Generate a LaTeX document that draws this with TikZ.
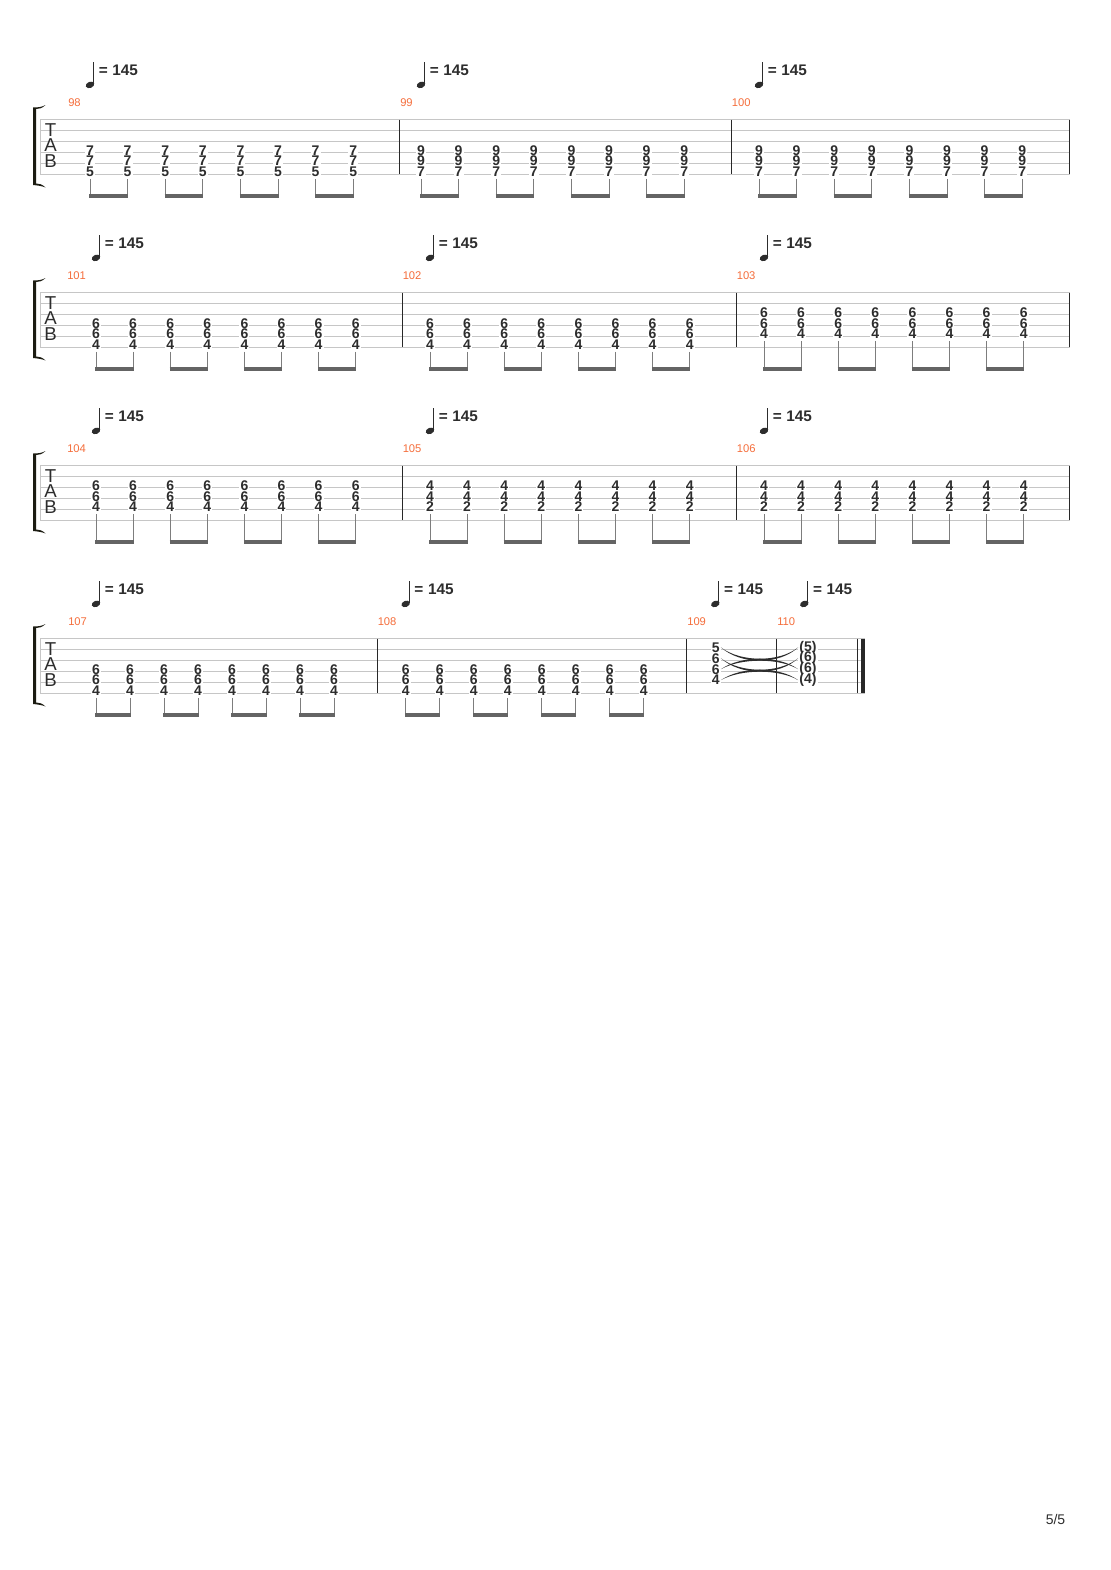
\documentclass[tikz,border=0pt]{standalone}
\usepackage{fontspec}
\setmainfont{Liberation Sans}
\definecolor{staffgray}{RGB}{198,198,198}
\definecolor{barblack}{RGB}{40,40,40}
\definecolor{fretgray}{RGB}{45,45,45}
\definecolor{numorange}{RGB}{245,110,60}
\definecolor{stemgray}{RGB}{125,125,125}
\definecolor{beamgray}{RGB}{100,100,100}
\definecolor{bracketcol}{RGB}{28,28,18}
\tikzset{
  fret/.style={fill=white, inner xsep=0.8pt, inner ysep=0pt, text=fretgray,
    font=\fontsize{10.5pt}{11pt}\selectfont\bfseries},
  staffline/.style={draw=staffgray, line width=0.75pt},
  barline/.style={draw=barblack, line width=0.75pt},
  stem/.style={draw=stemgray, line width=0.75pt, shorten <=1.4pt},
  beam/.style={draw=beamgray, line width=2.3pt, shorten <=-0.4pt, shorten >=-0.4pt},
  barnum/.style={anchor=west, inner sep=0pt, text=numorange,
    font=\fontsize{8.4pt}{9pt}\selectfont},
  tempo/.style={anchor=west, inner sep=0pt, text=fretgray,
    font=\fontsize{11.5pt}{12pt}\selectfont\bfseries},
  tabletter/.style={inner sep=0pt, text=fretgray, font=\fontsize{14pt}{14pt}\selectfont},
  tiefill/.style={fill=fretgray}
}
\begin{document}
\begin{tikzpicture}[x=0.75pt, y=-0.75pt]
  \fill[white] (0,0) rectangle (1110,1570);
  \useasboundingbox (0,0) rectangle (1110,1570);

  % staves
  \foreach \sy/\xe [count=\n] in {119.5/1069.5, 292.5/1069.5, 465.5/1069.5, 638.5/864.7} {
    \foreach \k in {0,...,5}
      \draw[staffline] (40,\sy+10.9*\k) -- (\xe,\sy+10.9*\k);
    \draw[staffline] (40.5,\sy) -- (40.5,\sy+54.5);
    \node[tabletter] (tabT\n) at (50.7,\sy+10.7) {T};
    \node[tabletter] (tabA\n) at (50.7,\sy+26) {A};
    \node[tabletter] (tabB\n) at (50.7,\sy+41.4) {B};
    \fill[bracketcol] (33.2,\sy-12) -- (33.2,\sy+65.5)
      .. controls (38,\sy+66) and (42,\sy+66.5) .. (45.5,\sy+68)
      .. controls (42,\sy+64.5) and (38.5,\sy+64) .. (36,\sy+64) -- (36,\sy-10.5)
      .. controls (38.5,\sy-10.5) and (42,\sy-11) .. (45.5,\sy-14.5)
      .. controls (42,\sy-12.5) and (38,\sy-12) .. cycle;
  }

  % bar lines
  \foreach \bx/\sy in {399.5/119.5, 731.5/119.5, 1069.5/119.5,
                       402.5/292.5, 736.5/292.5, 1069.5/292.5,
                       402.5/465.5, 736.5/465.5, 1069.5/465.5,
                       377.5/638.5, 686.5/638.5, 776.5/638.5, 857.5/638.5}
    \draw[barline] (\bx,\sy) -- (\bx,\sy+54.5);
  \fill[barblack] (861,638.5) rectangle (865,693);

  % bar numbers
  \foreach \m/\bx/\sy in {98/68/119.5, 99/400/119.5, 100/731.7/119.5,
                          101/67/292.5, 102/402.5/292.5, 103/736.5/292.5,
                          104/67/465.5, 105/402.5/465.5, 106/736.7/465.5,
                          107/68/638.5, 108/377.5/638.5, 109/687/638.5, 110/777/638.5}
    \node[barnum] (num\m) at (\bx,\sy-16.6) {\m};

  % tempo marks
  \foreach \m/\xo/\sy in {98/90/119.5, 99/421/119.5, 100/759/119.5,
                          101/96/292.5, 102/430/292.5, 103/764/292.5,
                          104/96/465.5, 105/430/465.5, 106/764/465.5,
                          107/96/638.5, 108/405.7/638.5, 109/715.3/638.5, 110/804.3/638.5} {
    \fill[fretgray, rotate around={22:(\xo,\sy-34.6)}] (\xo,\sy-34.6)
      ellipse [x radius=3.3pt, y radius=2.3pt];
    \draw[fretgray, line width=0.9pt] (\xo+3.5,\sy-35.5) -- (\xo+3.5,\sy-57.6);
    \node[tempo] (t\m) at (\xo+8.5,\sy-49.3) {=\hspace{3.5pt}145};
  }

  % eighth-note chords, beamed in pairs
  \foreach \m/\sy/\xo/\dx/\s/\fa/\fb/\fc in {
      98/119.5/90/37.6/4/7/7/5, 99/119.5/421/37.6/4/9/9/7, 100/119.5/759/37.6/4/9/9/7,
      101/292.5/96/37.1/4/6/6/4, 102/292.5/430/37.1/4/6/6/4, 103/292.5/764/37.1/3/6/6/4,
      104/465.5/96/37.1/3/6/6/4, 105/465.5/430/37.1/3/4/4/2, 106/465.5/764/37.1/3/4/4/2,
      107/638.5/96/34/4/6/6/4, 108/638.5/405.7/34/4/6/6/4} {
    \foreach \i in {0,...,7} {
      \pgfmathsetmacro{\xx}{\xo+\i*\dx}
      \foreach \f [count=\k from 0] in {\fa,\fb,\fc} {
        \pgfmathsetmacro{\yy}{\sy+10.9*(\s+\k-1)-2}
        \node[fret] (m\m-\i-\k) at (\xx,\yy) {\f};
      }
      \coordinate (m\m-\i-tail) at (\xx,\sy+76.5);
      \draw[stem] (m\m-\i-2) -- (m\m-\i-tail);
    }
    \foreach \i in {0,2,4,6} {
      \pgfmathtruncatemacro{\j}{\i+1}
      \draw[beam] (m\m-\i-tail) -- (m\m-\j-tail);
    }
  }

  % last two bars: tied chord
  \foreach \s/\f in {2/5, 3/6, 4/6, 5/4} {
    \pgfmathsetmacro{\yy}{638.5+10.9*(\s-1)-2}
    \node[fret] (m109-\s) at (715.7,\yy) {\f};
    \node[fret] (m110-\s) at (808,\yy) {(\f)};
  }
  \foreach \s/\mid in {2/659.7, 3/670.7, 4/659.7, 5/670.7} {
    \pgfmathsetmacro{\yo}{638.5+10.9*(\s-1)-2}
    \pgfmathsetmacro{\ca}{\yo+4/3*(\mid-\yo)+1.3}
    \pgfmathsetmacro{\cb}{\yo+4/3*(\mid-\yo)-1.3}
    \fill[tiefill] (m109-\s.east) .. controls (741,\ca) and (779,\ca) .. (m110-\s.west)
      .. controls (779,\cb) and (741,\cb) .. (m109-\s.east) -- cycle;
  }

  \node[text=fretgray, font=\fontsize{10.5pt}{11pt}\selectfont] (pagenum) at (1055.5,1519) {5/5};
\end{tikzpicture}
\end{document}
